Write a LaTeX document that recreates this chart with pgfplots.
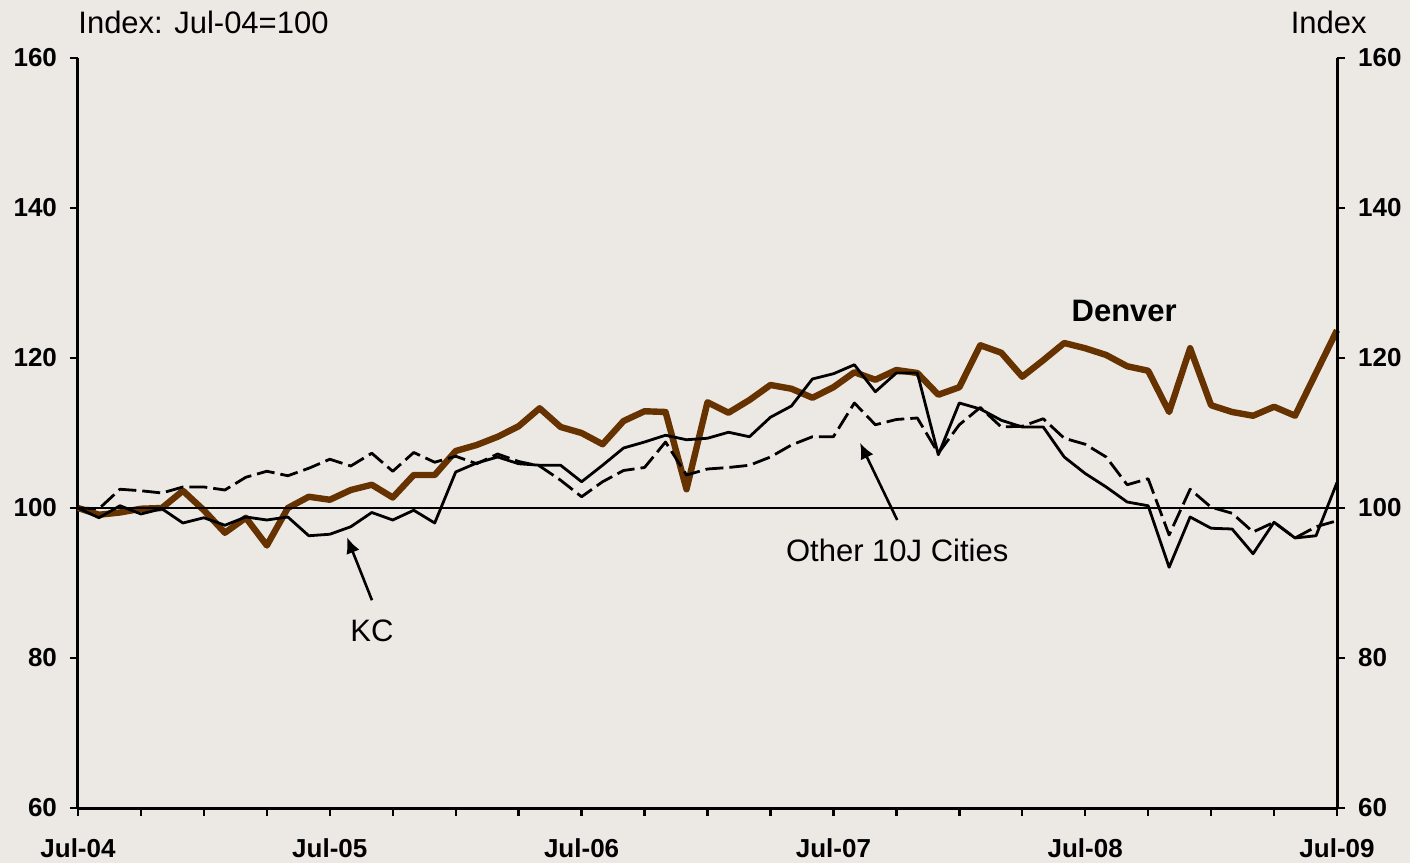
\documentclass[border=0pt]{standalone}
\usepackage{pgfplots}
\pgfplotsset{compat=1.18}
\usepackage{pgfplotstable}
\usepackage{fontspec}
\setmainfont{Liberation Sans}
\usetikzlibrary{arrows.meta}
\definecolor{bg}{RGB}{236,233,229}
\definecolor{denver}{RGB}{102,51,0}

\pgfplotstableread{
m den kc oth
0 100.0 100.0 100.0
1 99.1 98.7 99.9
2 99.4 100.3 102.5
3 99.9 99.2 102.3
4 100.0 99.9 102.0
5 102.3 98.0 102.8
6 99.7 98.7 102.8
7 96.7 97.7 102.4
8 98.7 98.8 104.1
9 95.0 98.4 104.9
10 100.0 98.8 104.3
11 101.5 96.3 105.3
12 101.1 96.5 106.5
13 102.4 97.5 105.6
14 103.1 99.4 107.3
15 101.4 98.4 104.9
16 104.4 99.7 107.4
17 104.4 98.0 106.1
18 107.6 104.8 106.9
19 108.4 106.0 105.9
20 109.5 106.8 107.2
21 110.9 105.9 106.2
22 113.3 105.7 105.6
23 110.8 105.7 103.7
24 110.0 103.5 101.5
25 108.5 105.7 103.5
26 111.6 108.0 105.0
27 112.9 108.8 105.4
28 112.8 109.7 108.8
29 102.5 109.1 104.4
30 114.1 109.3 105.2
31 112.7 110.1 105.4
32 114.4 109.5 105.7
33 116.4 112.1 106.8
34 115.9 113.6 108.4
35 114.7 117.2 109.5
36 116.1 117.9 109.5
37 118.1 119.1 114.0
38 117.1 115.5 111.1
39 118.4 118.0 111.8
40 118.0 118.0 112.0
41 115.1 107.1 107.3
42 116.1 114.0 111.1
43 121.7 113.2 113.4
44 120.7 111.7 110.8
45 117.5 110.8 110.9
46 119.7 110.8 111.9
47 122.0 106.8 109.3
48 121.3 104.6 108.5
49 120.4 102.8 106.8
50 118.9 100.8 103.1
51 118.3 100.3 103.9
52 112.8 92.1 96.4
53 121.3 98.8 102.5
54 113.7 97.3 100.1
55 112.8 97.2 99.3
56 112.3 93.9 96.8
57 113.5 98.1 98.1
58 112.3 96.0 96.0
59 118.0 96.3 97.5
60 123.7 103.4 98.3
}\datatable

\pgfplotsset{
  common/.style={
    at={(0,0)}, anchor=south west, scale only axis,
    width=629.5pt, height=375pt,
    xmin=0, xmax=60, ymin=60, ymax=160,
    axis line style={line width=1.5pt, -},
    tick style={black, line width=1.2pt},
    major tick length=4pt, minor tick length=4pt,
    tick align=outside,
    ytick={60,80,...,160},
    ticklabel style={font=\fontsize{13}{15}\selectfont\bfseries},
    /pgf/number format/assume math mode=true,
    clip=false,
  }
}

\begin{document}
\begin{tikzpicture}
\fill[bg] (-39pt,-27.5pt) rectangle (666pt,404pt);
\useasboundingbox (-39pt,-27.5pt) rectangle (666pt,404pt);
\begin{axis}[common,
  axis x line*=bottom, axis y line*=left,
  xtick={0,12,...,60},
  xticklabels={Jul-04,Jul-05,Jul-06,Jul-07,Jul-08,Jul-09},
  minor xtick={3,6,...,57},
  xticklabel style={yshift=-8pt},
  yticklabel style={xshift=-3pt},
]
\addplot[denver, line width=3.2pt, line join=round] table[x=m, y=den] {\datatable};
\addplot[black, line width=1.4pt, line join=round] table[x=m, y=kc] {\datatable};
\addplot[black, line width=1.4pt, line join=round, dash pattern=on 9pt off 3pt] table[x=m, y=oth] {\datatable};
\addplot[black, line width=1.3pt] coordinates {(0,100) (60,100)};

\node[anchor=west, inner sep=0pt, yshift=18pt, font=\fontsize{15.5}{18}\selectfont] at (rel axis cs:0,1) {Index: Jul-04=100};
\node[anchor=east, inner sep=0pt, xshift=15pt, yshift=18pt, font=\fontsize{15.5}{18}\selectfont] at (rel axis cs:1,1) {Index};

\node[font=\fontsize{15.5}{18}\selectfont\bfseries] at (axis cs:49.86,126.3) {Denver};
\node[font=\fontsize{15.5}{18}\selectfont] at (axis cs:39.04,94.3) {Other 10J Cities};
\node[font=\fontsize{15.5}{18}\selectfont] at (axis cs:14.01,83.6) {KC};
\draw[line width=1.3pt, -{Latex[length=8pt,width=7pt]}] (axis cs:14.01,87.7) -- (axis cs:12.82,96.1);
\draw[line width=1.3pt, -{Latex[length=8pt,width=7pt]}] (axis cs:39.04,98.4) -- (axis cs:37.27,108.7);
\end{axis}
\begin{axis}[common,
  axis x line=none, axis y line*=right,
  yticklabel style={xshift=3pt},
]
\end{axis}
\end{tikzpicture}
\end{document}
